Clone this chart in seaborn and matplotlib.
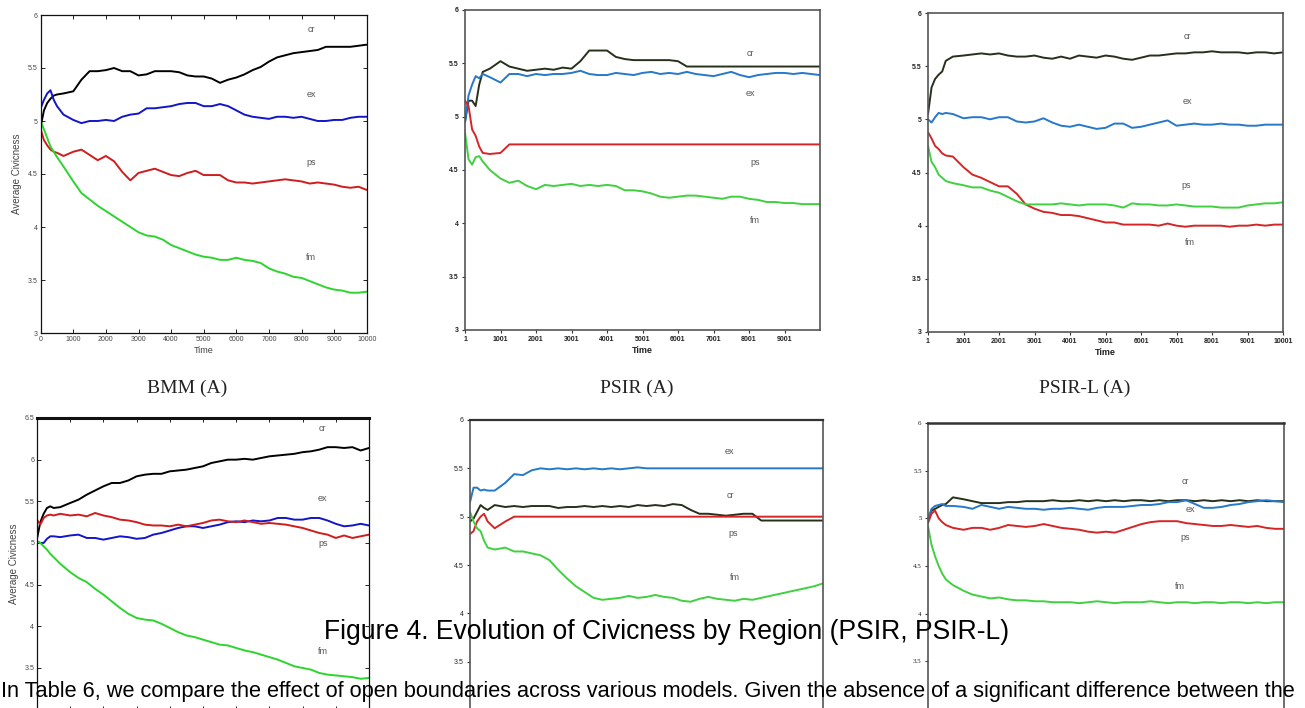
import matplotlib
matplotlib.use('Agg')
import matplotlib.pyplot as plt
import pandas as pd
import seaborn as sns

W, H = 1305, 708

TIME = [0, 100, 200, 300, 400, 500, 700, 1000,
        1250, 1500, 1750, 2000, 2250, 2500, 2750, 3000,
        3250, 3500, 3750, 4000, 4250, 4500, 4750, 5000,
        5250, 5500, 5750, 6000, 6250, 6500, 6750, 7000,
        7250, 7500, 7750, 8000, 8250, 8500, 8750, 9000,
        9250, 9500, 9750, 10000]
SERIES = ['cr', 'ex', 'ps', 'fm']

# BMM (A)
BMM_A_CR = [4.95, 5.10, 5.17, 5.21, 5.24, 5.25, 5.26, 5.28,
            5.39, 5.47, 5.47, 5.48, 5.50, 5.47, 5.47, 5.43,
            5.44, 5.47, 5.47, 5.47, 5.46, 5.43, 5.42, 5.42,
            5.40, 5.36, 5.39, 5.41, 5.44, 5.48, 5.51, 5.56,
            5.60, 5.62, 5.64, 5.65, 5.66, 5.67, 5.70, 5.70,
            5.70, 5.70, 5.71, 5.72]
BMM_A_EX = [5.12, 5.20, 5.26, 5.29, 5.20, 5.14, 5.06, 5.01,
            4.98, 5.00, 5.00, 5.01, 5.00, 5.04, 5.06, 5.07,
            5.12, 5.12, 5.13, 5.14, 5.16, 5.17, 5.17, 5.14,
            5.14, 5.16, 5.14, 5.10, 5.06, 5.04, 5.03, 5.02,
            5.04, 5.04, 5.03, 5.04, 5.02, 5.00, 5.00, 5.01,
            5.01, 5.03, 5.04, 5.04]
BMM_A_PS = [4.92, 4.82, 4.77, 4.73, 4.71, 4.70, 4.67, 4.71,
            4.73, 4.68, 4.63, 4.67, 4.62, 4.52, 4.44, 4.51,
            4.53, 4.55, 4.52, 4.49, 4.48, 4.51, 4.53, 4.49,
            4.49, 4.49, 4.44, 4.42, 4.42, 4.41, 4.42, 4.43,
            4.44, 4.45, 4.44, 4.43, 4.41, 4.42, 4.41, 4.40,
            4.38, 4.37, 4.38, 4.35]
BMM_A_FM = [5.00, 4.92, 4.84, 4.76, 4.71, 4.66, 4.57, 4.43,
            4.32, 4.26, 4.20, 4.15, 4.10, 4.05, 4.00, 3.95,
            3.92, 3.91, 3.88, 3.83, 3.80, 3.77, 3.74, 3.72,
            3.71, 3.69, 3.69, 3.71, 3.69, 3.68, 3.66, 3.61,
            3.58, 3.56, 3.53, 3.52, 3.49, 3.46, 3.43, 3.41,
            3.40, 3.38, 3.38, 3.39]

# PSIR (A)
PSIR_A_CR = [4.95, 5.15, 5.15, 5.10, 5.30, 5.42, 5.45, 5.52,
             5.47, 5.45, 5.43, 5.44, 5.45, 5.44, 5.46, 5.45,
             5.52, 5.62, 5.62, 5.62, 5.56, 5.54, 5.53, 5.53,
             5.53, 5.53, 5.53, 5.52, 5.47, 5.47, 5.47, 5.47,
             5.47, 5.47, 5.47, 5.47, 5.47, 5.47, 5.47, 5.47,
             5.47, 5.47, 5.47, 5.47]
PSIR_A_EX = [4.95, 5.20, 5.30, 5.38, 5.36, 5.40, 5.37, 5.32,
             5.40, 5.40, 5.38, 5.40, 5.39, 5.40, 5.40, 5.41,
             5.43, 5.40, 5.39, 5.39, 5.41, 5.40, 5.39, 5.41,
             5.42, 5.40, 5.41, 5.40, 5.42, 5.40, 5.39, 5.38,
             5.40, 5.42, 5.39, 5.37, 5.39, 5.40, 5.41, 5.41,
             5.40, 5.41, 5.40, 5.39]
PSIR_A_PS = [5.15, 5.10, 4.88, 4.82, 4.72, 4.66, 4.65, 4.66,
             4.74, 4.74, 4.74, 4.74, 4.74, 4.74, 4.74, 4.74,
             4.74, 4.74, 4.74, 4.74, 4.74, 4.74, 4.74, 4.74,
             4.74, 4.74, 4.74, 4.74, 4.74, 4.74, 4.74, 4.74,
             4.74, 4.74, 4.74, 4.74, 4.74, 4.74, 4.74, 4.74,
             4.74, 4.74, 4.74, 4.74]
PSIR_A_FM = [4.85, 4.60, 4.55, 4.62, 4.63, 4.58, 4.50, 4.42,
             4.38, 4.40, 4.35, 4.32, 4.36, 4.35, 4.36, 4.37,
             4.35, 4.36, 4.35, 4.36, 4.35, 4.31, 4.31, 4.30,
             4.28, 4.25, 4.24, 4.25, 4.26, 4.26, 4.25, 4.24,
             4.23, 4.25, 4.25, 4.23, 4.22, 4.20, 4.20, 4.19,
             4.19, 4.18, 4.18, 4.18]

# PSIR-L (A)
PSIRL_A_CR = [5.05, 5.30, 5.38, 5.42, 5.45, 5.55, 5.59, 5.60,
              5.61, 5.62, 5.61, 5.62, 5.60, 5.59, 5.59, 5.60,
              5.58, 5.57, 5.59, 5.57, 5.60, 5.59, 5.58, 5.60,
              5.59, 5.57, 5.56, 5.58, 5.60, 5.60, 5.61, 5.62,
              5.62, 5.63, 5.63, 5.64, 5.63, 5.63, 5.63, 5.62,
              5.63, 5.63, 5.62, 5.63]
PSIRL_A_EX = [5.00, 4.97, 5.02, 5.06, 5.05, 5.06, 5.05, 5.01,
              5.02, 5.02, 5.00, 5.02, 5.02, 4.98, 4.97, 4.98,
              5.01, 4.97, 4.94, 4.93, 4.95, 4.93, 4.91, 4.92,
              4.96, 4.96, 4.92, 4.93, 4.95, 4.97, 4.99, 4.94,
              4.95, 4.96, 4.95, 4.95, 4.96, 4.95, 4.95, 4.94,
              4.94, 4.95, 4.95, 4.95]
PSIRL_A_PS = [4.88, 4.82, 4.75, 4.72, 4.68, 4.66, 4.65, 4.55,
              4.48, 4.45, 4.41, 4.37, 4.37, 4.30, 4.20, 4.16,
              4.13, 4.12, 4.10, 4.10, 4.09, 4.07, 4.05, 4.03,
              4.03, 4.01, 4.01, 4.01, 4.01, 4.00, 4.02, 4.00,
              3.99, 4.00, 4.00, 4.00, 4.00, 3.99, 4.00, 4.00,
              4.01, 4.00, 4.01, 4.01]
PSIRL_A_FM = [4.75, 4.60, 4.55, 4.48, 4.45, 4.42, 4.40, 4.38,
              4.36, 4.36, 4.33, 4.31, 4.27, 4.23, 4.20, 4.20,
              4.20, 4.20, 4.21, 4.20, 4.19, 4.20, 4.20, 4.20,
              4.19, 4.17, 4.21, 4.20, 4.20, 4.19, 4.19, 4.20,
              4.19, 4.18, 4.18, 4.18, 4.17, 4.17, 4.17, 4.19,
              4.20, 4.21, 4.21, 4.22]

# BMM (B)
BMM_B_CR = [5.05, 5.25, 5.35, 5.42, 5.44, 5.42, 5.43, 5.48,
            5.52, 5.58, 5.63, 5.68, 5.72, 5.72, 5.75, 5.80,
            5.82, 5.83, 5.83, 5.86, 5.87, 5.88, 5.90, 5.92,
            5.96, 5.98, 6.00, 6.00, 6.01, 6.00, 6.02, 6.04,
            6.05, 6.06, 6.07, 6.09, 6.10, 6.12, 6.15, 6.15,
            6.14, 6.15, 6.11, 6.14]
BMM_B_EX = [5.02, 5.00, 5.00, 5.05, 5.08, 5.08, 5.07, 5.09,
            5.10, 5.06, 5.06, 5.04, 5.06, 5.08, 5.07, 5.05,
            5.06, 5.10, 5.12, 5.15, 5.18, 5.20, 5.20, 5.18,
            5.20, 5.22, 5.25, 5.26, 5.25, 5.27, 5.26, 5.27,
            5.30, 5.30, 5.28, 5.28, 5.30, 5.30, 5.27, 5.23,
            5.20, 5.21, 5.23, 5.21]
BMM_B_PS = [5.28, 5.22, 5.30, 5.33, 5.34, 5.33, 5.35, 5.33,
            5.34, 5.32, 5.36, 5.33, 5.31, 5.28, 5.27, 5.25,
            5.22, 5.21, 5.21, 5.20, 5.22, 5.20, 5.22, 5.24,
            5.27, 5.28, 5.26, 5.25, 5.27, 5.25, 5.23, 5.24,
            5.23, 5.22, 5.20, 5.18, 5.15, 5.12, 5.10, 5.06,
            5.09, 5.06, 5.08, 5.10]
BMM_B_FM = [5.02, 5.00, 4.96, 4.92, 4.87, 4.83, 4.75, 4.65,
            4.58, 4.53, 4.45, 4.38, 4.30, 4.22, 4.15, 4.10,
            4.08, 4.07, 4.03, 3.98, 3.93, 3.89, 3.87, 3.84,
            3.81, 3.78, 3.77, 3.74, 3.71, 3.69, 3.66, 3.63,
            3.60, 3.56, 3.52, 3.50, 3.48, 3.44, 3.42, 3.41,
            3.40, 3.39, 3.37, 3.38]

# PSIR (B)
PSIR_B_CR = [4.95, 4.98, 5.05, 5.12, 5.09, 5.07, 5.12, 5.10,
             5.11, 5.10, 5.11, 5.11, 5.11, 5.09, 5.10, 5.10,
             5.11, 5.10, 5.11, 5.10, 5.11, 5.10, 5.12, 5.11,
             5.12, 5.11, 5.13, 5.12, 5.07, 5.03, 5.03, 5.02,
             5.01, 5.02, 5.03, 5.03, 4.96, 4.96, 4.96, 4.96,
             4.96, 4.96, 4.96, 4.96]
PSIR_B_EX = [5.15, 5.30, 5.30, 5.27, 5.28, 5.27, 5.27, 5.35,
             5.44, 5.43, 5.48, 5.50, 5.49, 5.50, 5.49, 5.50,
             5.49, 5.50, 5.49, 5.50, 5.49, 5.50, 5.51, 5.50,
             5.50, 5.50, 5.50, 5.50, 5.50, 5.50, 5.50, 5.50,
             5.50, 5.50, 5.50, 5.50, 5.50, 5.50, 5.50, 5.50,
             5.50, 5.50, 5.50, 5.50]
PSIR_B_PS = [4.82, 4.85, 4.95, 5.00, 5.03, 4.95, 4.88, 4.95,
             5.00, 5.00, 5.00, 5.00, 5.00, 5.00, 5.00, 5.00,
             5.00, 5.00, 5.00, 5.00, 5.00, 5.00, 5.00, 5.00,
             5.00, 5.00, 5.00, 5.00, 5.00, 5.00, 5.00, 5.00,
             5.00, 5.00, 5.00, 5.00, 5.00, 5.00, 5.00, 5.00,
             5.00, 5.00, 5.00, 5.00]
PSIR_B_FM = [5.05, 4.95, 4.88, 4.85, 4.75, 4.68, 4.66, 4.68,
             4.64, 4.64, 4.62, 4.60, 4.55, 4.45, 4.36, 4.28,
             4.22, 4.16, 4.14, 4.15, 4.16, 4.18, 4.16, 4.17,
             4.19, 4.17, 4.16, 4.13, 4.12, 4.15, 4.17, 4.15,
             4.14, 4.13, 4.15, 4.14, 4.16, 4.18, 4.20, 4.22,
             4.24, 4.26, 4.28, 4.31]

# PSIR-L (B)
PSIRL_B_CR = [5.00, 5.08, 5.10, 5.12, 5.14, 5.15, 5.22, 5.20,
              5.18, 5.16, 5.16, 5.16, 5.17, 5.17, 5.18, 5.18,
              5.18, 5.19, 5.18, 5.18, 5.19, 5.18, 5.19, 5.18,
              5.19, 5.18, 5.19, 5.19, 5.18, 5.19, 5.18, 5.19,
              5.19, 5.18, 5.19, 5.18, 5.19, 5.18, 5.19, 5.18,
              5.19, 5.18, 5.18, 5.18]
PSIRL_B_EX = [5.00, 5.10, 5.13, 5.14, 5.15, 5.13, 5.13, 5.12,
              5.10, 5.14, 5.12, 5.10, 5.12, 5.11, 5.10, 5.10,
              5.09, 5.10, 5.10, 5.11, 5.10, 5.09, 5.11, 5.12,
              5.12, 5.12, 5.13, 5.14, 5.14, 5.15, 5.17, 5.17,
              5.19, 5.15, 5.11, 5.11, 5.12, 5.14, 5.15, 5.17,
              5.18, 5.19, 5.18, 5.17]
PSIRL_B_PS = [4.95, 5.05, 5.08, 5.00, 4.96, 4.93, 4.90, 4.88,
              4.90, 4.90, 4.88, 4.90, 4.93, 4.92, 4.91, 4.92,
              4.94, 4.92, 4.90, 4.89, 4.88, 4.86, 4.85, 4.86,
              4.85, 4.88, 4.91, 4.94, 4.96, 4.97, 4.97, 4.97,
              4.95, 4.94, 4.93, 4.92, 4.92, 4.93, 4.92, 4.91,
              4.92, 4.90, 4.89, 4.89]
PSIRL_B_FM = [4.92, 4.72, 4.60, 4.50, 4.42, 4.36, 4.30, 4.24,
              4.20, 4.18, 4.16, 4.17, 4.15, 4.14, 4.14, 4.13,
              4.13, 4.12, 4.12, 4.12, 4.11, 4.12, 4.13, 4.12,
              4.11, 4.12, 4.12, 4.12, 4.13, 4.12, 4.11, 4.12,
              4.12, 4.11, 4.12, 4.12, 4.11, 4.12, 4.12, 4.11,
              4.12, 4.11, 4.12, 4.12]

CAPTION = "Figure 4. Evolution of Civicness by Region (PSIR, PSIR-L)"
PARAGRAPH = ("In Table 6, we compare the effect of open boundaries across various "
             "models. Given the absence of a significant difference between the")

MATLAB_COLORS = {'cr': '#000000', 'ex': '#1414c8', 'ps': '#d01c1c', 'fm': '#2ed42e'}
SIGMA_COLORS = {'cr': '#27301a', 'ex': '#2678c8', 'ps': '#d42626', 'fm': '#40d040'}


def to_long(cr, ex, ps, fm):
    frames = []
    for name, vals in zip(SERIES, [cr, ex, ps, fm]):
        frames.append(pd.DataFrame({'time': TIME, 'value': vals, 'series': name}))
    return pd.concat(frames, ignore_index=True)


def px_axes(fig, left, top, right, bottom):
    return fig.add_axes([left / W, 1 - bottom / H, (right - left) / W, (bottom - top) / H])


def draw_lines(ax, df, colors, lw=1.4):
    sns.lineplot(data=df, x='time', y='value', hue='series', palette=colors,
                 hue_order=SERIES, legend=False, ax=ax, linewidth=lw,
                 estimator=None, sort=False)
    ax.set_xlabel('')
    ax.set_ylabel('')


def put_labels(ax, labels, size=6.5):
    for txt, x, y in labels:
        ax.text(x, y, txt, ha='center', va='center', fontsize=size, color='#555555')


def y_labels(ymax, cut_bottom):
    yt = [3 + 0.5 * i for i in range(int((ymax - 3) / 0.5) + 1)]
    # bottom panels run off the page, so the "3" label is not printed
    labels = ['' if (cut_bottom and v == 3) else f"{v:g}" for v in yt]
    return yt, labels


def style_matlab(ax, ymax, bottom_row=False):
    ax.set_xlim(0, 10000)
    ax.set_ylim(3, ymax)
    ax.set_xticks(range(0, 10001, 1000))
    yt, yl = y_labels(ymax, bottom_row)
    ax.set_yticks(yt)
    ax.set_yticklabels(yl)
    ax.tick_params(direction='in', top=True, right=True, length=3, width=0.7,
                   labelsize=5, colors='#222222', labelcolor='#444444', pad=2)
    for s in ax.spines.values():
        s.set_color('#111111')
        s.set_linewidth(0.9)
    if bottom_row:
        ax.tick_params(labelbottom=False)
    else:
        ax.set_xlabel('Time', fontsize=6.5, color='#444444', labelpad=2)
    ax.set_ylabel('Average Civicness', fontsize=7, color='#444444', labelpad=4)


def style_sigma(ax, last_tick, bold=True, serif=False, bottom_row=False):
    ax.set_xlim(0, 10000)
    ax.set_ylim(3, 6)
    xt = list(range(0, last_tick + 1, 1000))
    ax.set_xticks(xt)
    ax.set_xticklabels([str(v + 1) for v in xt])
    yt, yl = y_labels(6, bottom_row)
    ax.set_yticks(yt)
    ax.set_yticklabels(yl)
    ax.tick_params(direction='out', length=2.5, width=0.8, labelsize=5,
                   colors='#333333', labelcolor='#222222', pad=2)
    for lab in ax.get_xticklabels() + ax.get_yticklabels():
        if bold:
            lab.set_fontweight('bold')
        if serif:
            lab.set_family('Liberation Serif')
    for s in ax.spines.values():
        s.set_color('#555555')
        s.set_linewidth(1.2)
    if bottom_row:
        ax.tick_params(labelbottom=False)
    else:
        ax.set_xlabel('Time', fontsize=6.5, fontweight='bold', color='#222222', labelpad=2)


sns.set_style('ticks')
plt.rcParams['font.family'] = ['Liberation Sans', 'DejaVu Sans']

fig = plt.figure(figsize=(W / 100, H / 100), dpi=100)
fig.patch.set_facecolor('white')

# --- top row ---
ax1 = px_axes(fig, 40.7, 15, 366.7, 333)
draw_lines(ax1, to_long(BMM_A_CR, BMM_A_EX, BMM_A_PS, BMM_A_FM), MATLAB_COLORS)
style_matlab(ax1, 6)
put_labels(ax1, [('cr', 8300, 5.86), ('ex', 8290, 5.25), ('ps', 8290, 4.61), ('fm', 8290, 3.71)])

ax2 = px_axes(fig, 465, 10, 820, 330)
draw_lines(ax2, to_long(PSIR_A_CR, PSIR_A_EX, PSIR_A_PS, PSIR_A_FM), SIGMA_COLORS)
style_sigma(ax2, 9000)
put_labels(ax2, [('cr', 8030, 5.59), ('ex', 8030, 5.22), ('ps', 8170, 4.57), ('fm', 8170, 4.03)])

ax3 = px_axes(fig, 928, 13, 1283, 332)
draw_lines(ax3, to_long(PSIRL_A_CR, PSIRL_A_EX, PSIRL_A_PS, PSIRL_A_FM), SIGMA_COLORS)
style_sigma(ax3, 10000)
put_labels(ax3, [('cr', 7320, 5.78), ('ex', 7320, 5.17), ('ps', 7270, 4.38), ('fm', 7380, 3.84)])

for x, title in [(187, 'BMM (A)'), (637, 'PSIR (A)'), (1085, 'PSIR-L (A)')]:
    fig.text(x / W, 1 - 388 / H, title, ha='center', va='center', fontsize=14,
             family='Liberation Serif', color='#222222')

# --- bottom row (runs off the page bottom) ---
ax4 = px_axes(fig, 37, 418, 369, 709.6)
draw_lines(ax4, to_long(BMM_B_CR, BMM_B_EX, BMM_B_PS, BMM_B_FM), MATLAB_COLORS)
style_matlab(ax4, 6.5, bottom_row=True)
ax4.spines['top'].set_linewidth(2.2)
put_labels(ax4, [('cr', 8610, 6.37), ('ex', 8610, 5.53), ('ps', 8610, 4.99), ('fm', 8610, 3.70)])

ax5 = px_axes(fig, 470, 420, 823, 710)
draw_lines(ax5, to_long(PSIR_B_CR, PSIR_B_EX, PSIR_B_PS, PSIR_B_FM), SIGMA_COLORS)
style_sigma(ax5, 9000, bold=False, bottom_row=True)
ax5.spines['top'].set_color('#333333')
ax5.spines['top'].set_linewidth(1.6)
put_labels(ax5, [('ex', 7340, 5.67), ('cr', 7365, 5.22), ('ps', 7450, 4.83), ('fm', 7500, 4.37)])

ax6 = px_axes(fig, 928, 423, 1284, 709)
draw_lines(ax6, to_long(PSIRL_B_CR, PSIRL_B_EX, PSIRL_B_PS, PSIRL_B_FM), SIGMA_COLORS)
style_sigma(ax6, 10000, bold=False, serif=True, bottom_row=True)
ax6.spines['top'].set_color('#333333')
ax6.spines['top'].set_linewidth(1.8)
put_labels(ax6, [('cr', 7220, 5.39), ('ex', 7360, 5.09), ('ps', 7220, 4.80), ('fm', 7080, 4.29)])

# --- page text drawn over the figures ---
fig.text(667 / W, 1 - 639 / H, CAPTION, ha='center', va='baseline', fontsize=19.1, color='black')
fig.text(1 / W, 1 - 697 / H, PARAGRAPH, ha='left', va='baseline', fontsize=15.65, color='black')

fig.savefig('out.png', dpi=100, facecolor='white')
